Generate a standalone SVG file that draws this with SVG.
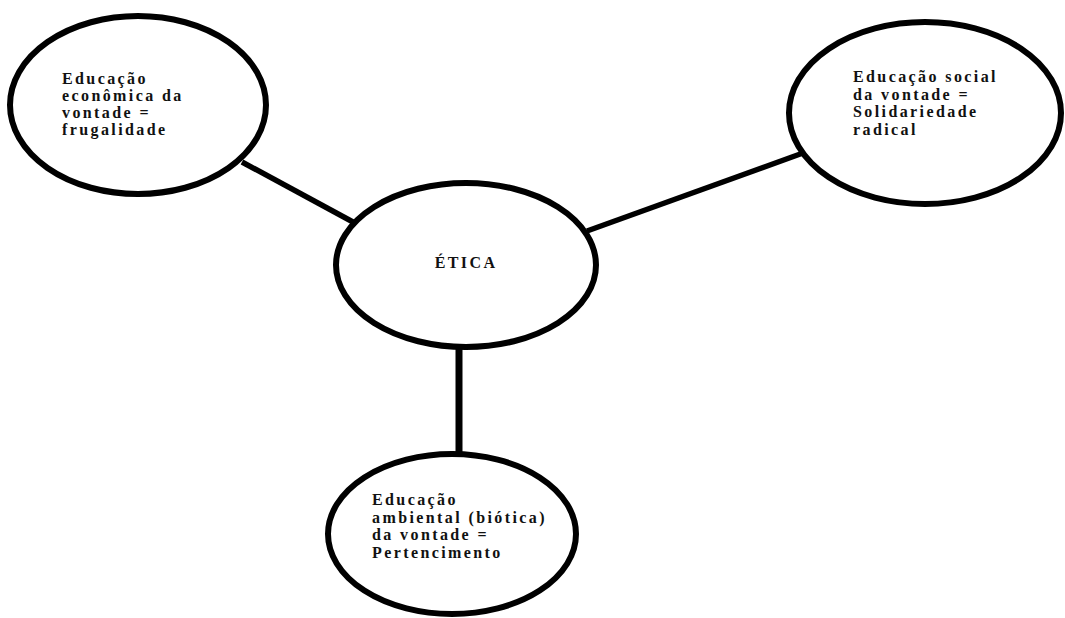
<svg xmlns="http://www.w3.org/2000/svg" width="1065" height="618" viewBox="0 0 1065 618">
<style>
.node{fill:#fff;stroke:#000;stroke-width:6}
.edge{stroke:#000;stroke-width:5.5;stroke-linecap:butt;fill:none}
.t{font-family:"Liberation Serif","Times New Roman",serif;font-weight:bold;font-size:16px;letter-spacing:2.4px;fill:#111}
</style>
<rect width="1065" height="618" fill="#fff"/>
<g id="connectors">
<line class="edge" x1="242" y1="162" x2="353" y2="222"/>
<line class="edge" x1="587" y1="231" x2="803" y2="153"/>
<line class="edge" x1="459" y1="347" x2="459" y2="455" style="stroke-width:7"/>
</g>
<g id="node-economica">
<ellipse class="node" cx="138" cy="105" rx="128" ry="89"/>
<text class="t"><tspan x="62" y="84">Educação</tspan><tspan x="62" y="101">econômica da</tspan><tspan x="62" y="118">vontade =</tspan><tspan x="62" y="135">frugalidade</tspan></text>
</g>
<g id="node-social">
<ellipse class="node" cx="925" cy="113" rx="136" ry="91"/>
<text class="t"><tspan x="853" y="82">Educação social</tspan><tspan x="853" y="100">da vontade =</tspan><tspan x="853" y="117">Solidariedade</tspan><tspan x="853" y="135">radical</tspan></text>
</g>
<g id="node-etica">
<ellipse class="node" cx="466" cy="265" rx="130" ry="82"/>
<text class="t" x="466" y="268" text-anchor="middle">ÉTICA</text>
</g>
<g id="node-ambiental">
<ellipse class="node" cx="452" cy="534" rx="124" ry="80"/>
<text class="t"><tspan x="372" y="505">Educação</tspan><tspan x="372" y="523">ambiental (biótica)</tspan><tspan x="372" y="540">da vontade =</tspan><tspan x="372" y="558">Pertencimento</tspan></text>
</g>
</svg>
